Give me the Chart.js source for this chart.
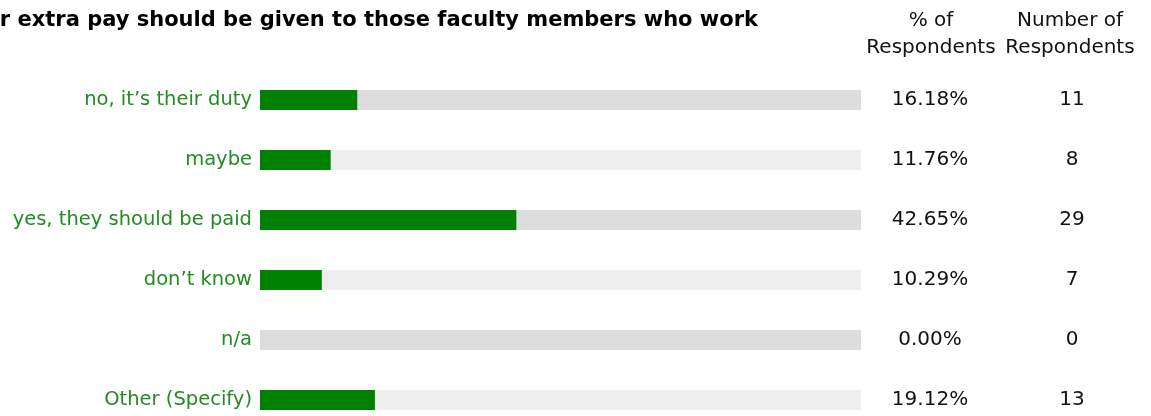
<!DOCTYPE html>
<html>
<head>
<meta charset="utf-8">
<script src="https://cdn.jsdelivr.net/npm/chart.js@4"></script>
<style>
  html, body { margin:0; padding:0; background:#fff; }
  #wrap { position:relative; width:1151px; height:416px; }
</style>
</head>
<body>
<div id="wrap"><canvas id="c" width="1151" height="416"></canvas></div>
<script>
const answers = ['no, it\u2019s their duty', 'maybe', 'yes, they should be paid', 'don\u2019t know', 'n/a', 'Other (Specify)']
const percents = [16.18, 11.76, 42.65, 10.29, 0.00, 19.12]
const counts = [11, 8, 29, 7, 0, 13]
const track = [100, 100, 100, 100, 100, 100]
const title = 'r extra pay should be given to those faculty members who work'

const font = '"DejaVu Sans", Verdana, sans-serif'

// right side columns + title
const sideText = {
    id: 'sideText',
    afterDraw: c => {
        const x = c.ctx, y = c.scales.y
        x.save()
        x.fillStyle = '#000'
        x.textBaseline = 'middle'
        x.font = 'bold 21px ' + font
        x.textAlign = 'right'
        x.fillText(title, 758, 21)

        x.font = '20px ' + font
        x.textAlign = 'center'
        x.fillStyle = '#111'
        x.fillText('% of', 931, 21)
        x.fillText('Respondents', 931, 48)
        x.fillText('Number of', 1070, 21)
        x.fillText('Respondents', 1070, 48)

        percents.forEach((p, i) => {
            const py = y.getPixelForValue(i)
            x.fillText(p.toFixed(2) + '%', 930, py)
            x.fillText(String(counts[i]), 1072, py)
        })
        x.restore()
    }
}

new Chart(document.getElementById('c'), {
    type: 'bar',
    data: {
        labels: answers,
        datasets: [{
            data: percents,
            backgroundColor: '#008000',
            barThickness: 20,
            inflateAmount: 0,
            grouped: false,
            order: 1,
            clip: false,
        }, {
            data: track,
            backgroundColor: ['#dcdcdc', '#eeeeee', '#dcdcdc', '#eeeeee', '#dcdcdc', '#eeeeee'],
            barThickness: 20,
            inflateAmount: 0,
            grouped: false,
            order: 2,
            clip: false,
        }]
    },
    options: {
        indexAxis: 'y',
        responsive: false,
        animation: false,
        layout: { padding: { top: 100, bottom: 16, right: 290, left: 0 } },
        plugins: {
            legend: { display: false },
            tooltip: { enabled: false },
        },
        scales: {
            x: { min: 0, max: 100, display: false },
            y: {
                offset: false,
                grid: { display: false, drawTicks: false },
                border: { display: false },
                afterFit: s => {
                    s.width = 260
                    s.paddingTop = 0
                    s.paddingBottom = 0
                },
                ticks: {
                    color: '#228b22',
                    padding: 8,
                    font: { family: font, size: 19.5 },
                },
            },
        },
    },
    plugins: [sideText],
})
</script>
</body>
</html>
